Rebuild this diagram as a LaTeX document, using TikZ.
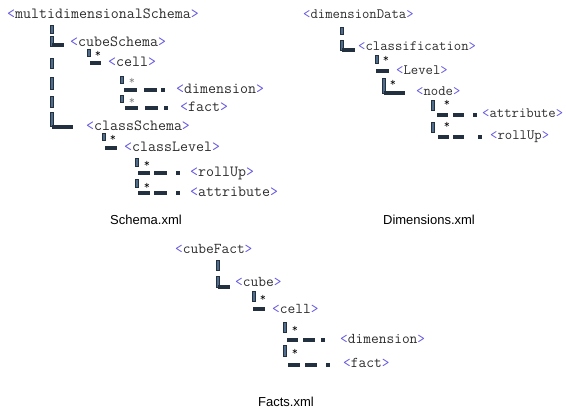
\documentclass[tikz,border=0pt]{standalone}
\usepackage{fontspec}
\setmainfont{Liberation Sans}
\usepackage{tikz}
\usepackage{xcolor}
\definecolor{cBracket}{RGB}{98,86,225}
\definecolor{cName}{RGB}{45,45,45}
\definecolor{cBar}{RGB}{35,48,64}
\definecolor{cBarFill}{RGB}{80,110,140}
\newcommand{\tg}[1]{\textcolor{cBracket}{<}#1\textcolor{cBracket}{>}}
\tikzset{
	tag/.style={anchor=west, inner sep=0pt, text=cName, font=\ttfamily\fontsize{#1}{16}\selectfont, text height=7pt, text depth=1pt},
	tag/.default=15,
	vbar/.style={rectangle, draw=cBar, fill=cBarFill, line width=0.8pt, minimum width=3.6pt, inner sep=0pt},
	hbar/.style={rectangle, fill=cBar, minimum height=3.6pt, inner sep=0pt},
	dotbox/.style={rectangle, fill=cBar, minimum width=3.2pt, minimum height=3.2pt, inner sep=0pt},
	star/.style={anchor=base, inner sep=0pt, font=\ttfamily\fontsize{12}{12}\selectfont, text height=7pt, text depth=0pt},
	gstar/.style={star, text=gray},
	caption/.style={inner sep=0pt, font=\fontsize{13}{15}\selectfont, text=black},
}

\begin{document}
\begin{tikzpicture}[x=1pt, y=-1pt]
	\useasboundingbox (0,0) rectangle (566,408);
	% Schema.xml
	\node[tag=15.5] (ms) at (7,15) {\tg{multidimensionalSchema}};
	\node[vbar, minimum height=8pt] (msB1) at (52,29) {};
	\node[vbar, minimum height=10pt] (msB2) at (52,41) {};
	\node[hbar, minimum width=12pt] (msH1) at (58,45) {};
	\node[tag=15.5] (cs) at (70,43) {\tg{cubeSchema}};
	\node[vbar, minimum height=7pt] (csB) at (89,53) {};
	\node[star] (csS) at (98,57.5) {*};
	\node[hbar, minimum width=11pt] (csH) at (95,63) {};
	\node[tag=15.5] (cl) at (108,63) {\tg{cell}};
	\node[vbar, minimum height=10pt] (msB3) at (52,63) {};
	\node[vbar, minimum height=12pt] (msB4) at (52,83) {};
	\node[vbar, minimum height=11pt] (msB5) at (52,102) {};
	\node[vbar, minimum height=14pt] (msB6) at (52,119) {};
	\node[hbar, minimum width=21pt] (msH2) at (62.5,127) {};
	\node[tag=15.5] (ks) at (86,127) {\tg{classSchema}};
	% cell children
	\node[vbar, minimum height=7pt] (clB1) at (122,80) {};
	\node[gstar] (clS1) at (132,84) {*};
	\node[hbar, minimum width=13pt] (clH1) at (130,90) {};
	\node[hbar, minimum width=13pt] (clH2) at (150,90) {};
	\node[dotbox] (clD1) at (163,90) {};
	\node[tag=15.5] (dm) at (176,90) {\tg{dimension}};
	\node[vbar, minimum height=7pt] (clB2) at (122,99) {};
	\node[gstar] (clS2) at (132,104) {*};
	\node[hbar, minimum width=13pt] (clH3) at (131.5,108) {};
	\node[hbar, minimum width=13pt] (clH4) at (151.5,108) {};
	\node[dotbox] (clD2) at (166,108) {};
	\node[tag=15.5] (ft) at (180,108) {\tg{fact}};
	% classSchema children
	\node[vbar, minimum height=7pt] (ksB) at (104,137) {};
	\node[star] (ksS) at (113,141.5) {*};
	\node[hbar, minimum width=12pt] (ksH) at (111,148) {};
	\node[tag=15.5] (kl) at (124,148) {\tg{classLevel}};
	\node[vbar, minimum height=8pt] (klB1) at (137,162) {};
	\node[star] (klS1) at (147,167) {*};
	\node[hbar, minimum width=12pt] (klH1) at (144,173) {};
	\node[hbar, minimum width=13pt] (klH2) at (160,173) {};
	\node[dotbox] (klD1) at (178,173) {};
	\node[tag=15.5] (ru) at (190,173) {\tg{rollUp}};
	\node[vbar, minimum height=8pt] (klB2) at (137,183) {};
	\node[star] (klS2) at (147,189) {*};
	\node[hbar, minimum width=12pt] (klH3) at (144,193) {};
	\node[hbar, minimum width=13pt] (klH4) at (160,193) {};
	\node[dotbox] (klD2) at (178,193) {};
	\node[tag=15.5] (at) at (190,193) {\tg{attribute}};
	\node[caption] (capS) at (146,220) {Schema.xml};
	% Dimensions.xml
	\node[tag=14.3] (dd) at (303,15) {\tg{dimensionData}};
	\node[vbar, minimum height=7pt] (ddB1) at (342,31) {};
	\node[vbar, minimum height=10pt] (ddB2) at (342,45) {};
	\node[hbar, minimum width=13pt] (ddH) at (348.5,50) {};
	\node[tag=14.3] (cf) at (358,47) {\tg{classification}};
	\node[vbar, minimum height=8pt] (cfB) at (377,59) {};
	\node[star] (cfS) at (386,62) {*};
	\node[hbar, minimum width=13pt] (cfH) at (382.5,71) {};
	\node[tag=14.3] (lv) at (396,71) {\tg{Level}};
	\node[vbar, minimum height=15pt] (lvB) at (384,85.5) {};
	\node[hbar, minimum width=21pt] (lvH) at (394.5,93) {};
	\node[star] (lvS) at (393,86) {*};
	\node[tag=14.3] (nd) at (416,92) {\tg{node}};
	\node[vbar, minimum height=10pt] (ndB1) at (433,105) {};
	\node[star] (ndS1) at (447,106) {*};
	\node[hbar, minimum width=11pt] (ndH1) at (442.5,115) {};
	\node[hbar, minimum width=11pt] (ndH2) at (458,115) {};
	\node[dotbox] (ndD1) at (475,115) {};
	\node[tag=14.3] (na) at (482,114) {\tg{attribute}};
	\node[vbar, minimum height=10pt] (ndB2) at (433,127) {};
	\node[star] (ndS2) at (447,128) {*};
	\node[hbar, minimum width=11pt] (ndH3) at (443.5,137) {};
	\node[hbar, minimum width=11pt] (ndH4) at (458,137) {};
	\node[dotbox] (ndD2) at (480,137) {};
	\node[tag=14.3] (nr) at (490,136) {\tg{rollUp}};
	\node[caption] (capD) at (429,220) {Dimensions.xml};
	% Facts.xml
	\node[tag] (cx) at (175,250) {\tg{cubeFact}};
	\node[vbar, minimum height=10pt] (cxB1) at (218,265) {};
	\node[vbar, minimum height=11pt] (cxB2) at (218,281.5) {};
	\node[hbar, minimum width=12pt] (cxH) at (224,287) {};
	\node[tag] (cb) at (235,283) {\tg{cube}};
	\node[vbar, minimum height=10pt] (cbB) at (254,296) {};
	\node[star] (cbS) at (263,301) {*};
	\node[hbar, minimum width=12pt] (cbH) at (259,309) {};
	\node[tag] (fc) at (272,310) {\tg{cell}};
	\node[vbar, minimum height=10pt] (fcB1) at (285,327) {};
	\node[star] (fcS1) at (295,332) {*};
	\node[hbar, minimum width=11pt] (fcH1) at (292.5,340) {};
	\node[hbar, minimum width=12pt] (fcH2) at (309,340) {};
	\node[dotbox] (fcD1) at (323,340) {};
	\node[tag] (fd) at (340,340) {\tg{dimension}};
	\node[vbar, minimum height=11pt] (fcB2) at (285,351) {};
	\node[star] (fcS2) at (295,355) {*};
	\node[hbar, minimum width=12pt] (fcH3) at (294,365) {};
	\node[hbar, minimum width=12pt] (fcH4) at (311,365) {};
	\node[dotbox] (fcD2) at (328,365) {};
	\node[tag] (ff) at (343,364) {\tg{fact}};
	\node[caption] (capF) at (286,402) {Facts.xml};
\end{tikzpicture}
\end{document}
